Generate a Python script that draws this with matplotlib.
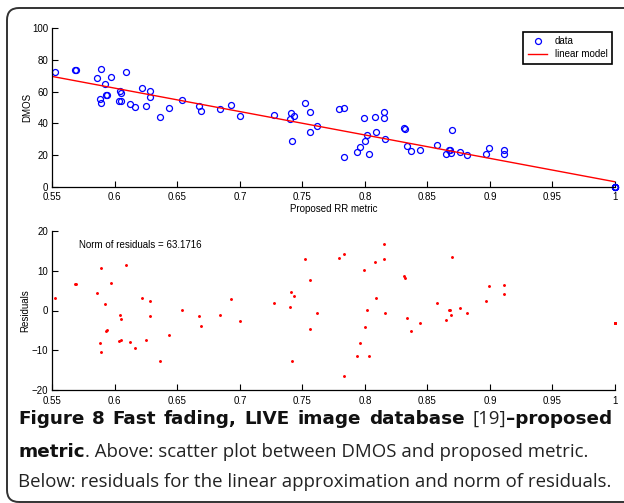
import matplotlib
matplotlib.use("Agg")
import matplotlib.pyplot as plt
from matplotlib.patches import FancyBboxPatch

# ==== data ====
x_data = [0.552, 0.568, 0.569, 0.586, 0.589, 0.588, 0.589, 0.592, 0.593, 0.594,
          0.597, 0.604, 0.603, 0.605, 0.605, 0.609, 0.612, 0.616, 0.622, 0.628,
          0.628, 0.625, 0.636, 0.643, 0.654, 0.667, 0.669, 0.684, 0.693, 0.700,
          0.727, 0.741, 0.740, 0.743, 0.742, 0.752, 0.756, 0.756, 0.762, 0.779,
          0.783, 0.783, 0.799, 0.808, 0.815, 0.815, 0.809, 0.802, 0.816, 0.800,
          0.796, 0.794, 0.803, 0.831, 0.832, 0.834, 0.837, 0.844, 0.858, 0.870,
          0.867, 0.868, 0.865, 0.869, 0.876, 0.882, 0.897, 0.899, 0.911, 0.911,
          1.0, 1.0, 1.0, 1.0, 1.0]
dmos = [72.4, 73.5, 73.5, 68.6, 74.5, 55.6, 53.1, 65.1, 58.1, 58.1,
        69.5, 60.6, 54.1, 54.1, 59.2, 72.4, 52.4, 50.3, 62.1, 60.6,
        56.6, 50.9, 44.2, 49.9, 54.5, 50.9, 48.0, 48.8, 51.6, 44.8,
        45.5, 46.3, 42.7, 44.8, 28.6, 52.8, 46.9, 34.7, 38.1, 49.3,
        49.5, 18.5, 43.2, 43.8, 47.4, 43.6, 34.5, 32.4, 29.9, 28.8,
        25.3, 22.1, 20.8, 37.3, 36.2, 25.9, 22.3, 23.2, 26.3, 36.0,
        23.2, 23.2, 20.6, 21.3, 22.1, 20.2, 20.8, 24.6, 22.9, 20.4,
        0.0, 0.0, 0.0, 0.0, 0.0]
resid = [3.1, 6.6, 6.75, 4.5, 10.6, -8.3, -10.5, 1.55, -5.1, -5.0,
         6.8, -1.1, -7.6, -7.3, -2.1, 11.4, -7.9, -9.4, 3.1, 2.5,
         -1.3, -7.5, -12.6, -6.1, 0.2, -1.4, -3.9, -1.1, 3.0, -2.6,
         1.8, 4.7, 1.0, 3.6, -12.8, 12.9, 7.7, -4.6, -0.6, 13.3,
         14.3, -16.6, 10.2, 12.1, 16.7, 13.0, 3.1, 0.05, -0.7, -4.1,
         -8.3, -11.4, -11.4, 8.8, 8.3, -2.0, -5.2, -3.1, 1.8, 13.4,
         0.05, 0.2, -2.5, -1.2, 0.55, -0.55, 2.5, 6.2, 6.4, 4.2,
         -3.1, -3.1, -3.1, -3.1, -3.1]
fit_x = [0.55, 1.0]
fit_y = [69.6, 3.1]

x_ticks = [0.55, 0.6, 0.65, 0.7, 0.75, 0.8, 0.85, 0.9, 0.95, 1.0]
x_labels = ["0.55", "0.6", "0.65", "0.7", "0.75", "0.8", "0.85", "0.9", "0.95", "1"]
dmos_ticks = [0, 20, 40, 60, 80, 100]
resid_ticks = [-20, -10, 0, 10, 20]
norm_text = "Norm of residuals = 63.1716"

W, H = 624, 503
plt.rcParams["font.family"] = ["Liberation Sans", "DejaVu Sans"]
fig = plt.figure(figsize=(W / 100, H / 100), dpi=100)


def ax_rect(left, top, right, bottom):
    return [left / W, 1 - bottom / H, (right - left) / W, (bottom - top) / H]


def style(ax):
    for s in ["top", "right"]:
        ax.spines[s].set_visible(False)
    for s in ["left", "bottom"]:
        ax.spines[s].set_linewidth(0.9)
    ax.tick_params(direction="in", length=4, width=0.8, labelsize=7, pad=3)
    ax.tick_params(axis="x", pad=4)
    ax.set_xlim(0.55, 1.0)
    ax.set_xticks(x_ticks)
    ax.set_xticklabels(x_labels)


# ==== top: scatter + linear model ====
ax1 = fig.add_axes(ax_rect(52.3, 28.3, 615, 186.7))
style(ax1)
ax1.plot(x_data, dmos, "o", mfc="none", mec="#0000ff", ms=4.3, mew=0.9,
         label="data", clip_on=False)
ax1.plot(fit_x, fit_y, "-", color="#ff0000", lw=1.0, label="linear model")
ax1.set_ylim(0, 100)
ax1.set_yticks(dmos_ticks)
ax1.set_xlabel("Proposed RR metric", fontsize=7)
ax1.set_ylabel("DMOS", fontsize=7)
ax1.xaxis.set_label_coords(0.5, -0.112)
ax1.yaxis.set_label_coords(-0.036, 0.5)
leg = ax1.legend(loc="upper right", bbox_to_anchor=(0.995, 0.977),
                 borderaxespad=0, fontsize=7, fancybox=False,
                 edgecolor="black", framealpha=1, handlelength=2.0,
                 borderpad=0.45, labelspacing=0.3)
leg.get_frame().set_linewidth(1.2)

# ==== bottom: residuals ====
ax2 = fig.add_axes(ax_rect(52.3, 231, 615, 390))
style(ax2)
ax2.plot(x_data, resid, ".", color="#ff0000", ms=2.2, clip_on=False)
ax2.set_ylim(-20, 20)
ax2.set_yticks(resid_ticks)
ax2.set_ylabel("Residuals", fontsize=7)
ax2.yaxis.set_label_coords(-0.039, 0.5)
ax2.text(0.571, 16.5, norm_text, fontsize=7, va="center", ha="left")

# ==== frame (right side runs off the picture) ====
frame = FancyBboxPatch((0.07, 0.01), 20.0, 4.94,
                       boxstyle="round,pad=0,rounding_size=0.12",
                       transform=fig.dpi_scale_trans, fill=False,
                       edgecolor="#333333", lw=1.4)
fig.patches.append(frame)

# ==== caption ====
cap_font = ["Open Sans", "DejaVu Sans"]
bold_font = ["DejaVu Sans"]
cap_col = "#222222"
renderer = fig.canvas.get_renderer()

line3 = "Below: residuals for the linear approximation and norm of residuals."
probe = fig.text(0, 0, line3, fontsize=13, family=cap_font)
w3 = probe.get_window_extent(renderer).width
probe.remove()
fs = 13 * (610 - 18) / w3


def put(xpx, ypx, s, weight="normal"):
    if weight == "bold":
        fam, size, col = bold_font, fs * 0.98, "#111111"
    else:
        fam, size, col = cap_font, fs, cap_col
    t = fig.text(xpx / W, 1 - ypx / H, s, fontsize=size, family=fam,
                 weight=weight, color=col, va="baseline", ha="left")
    return t, t.get_window_extent(renderer).width


# line 1: justified across the text block
words = [[("Figure", "bold")], [("8", "bold")], [("Fast", "bold")],
         [("fading,", "bold")], [("LIVE", "bold")], [("image", "bold")],
         [("database", "bold")], [("[19]", "normal"), ("–proposed", "bold")]]
placed = []
total = 0
for wd in words:
    parts = []
    for s, wt in wd:
        t, w = put(0, 424, s, wt)
        parts.append((t, w))
        total += w
    placed.append(parts)
gap = (612 - 18 - total) / (len(words) - 1)
x = 18
for parts in placed:
    for t, w in parts:
        t.set_x(x / W)
        x += w
    x += gap

# line 2
t, w = put(18, 457, "metric", "bold")
put(18 + w, 457, ". Above: scatter plot between DMOS and proposed metric.")

# line 3
put(18, 487, line3)

fig.savefig("out.png", dpi=100)
